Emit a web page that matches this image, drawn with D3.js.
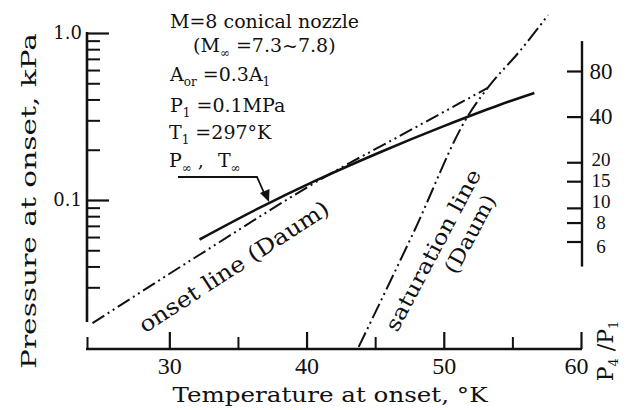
<!DOCTYPE html>
<html>
<head>
<meta charset="utf-8">
<script src="https://cdn.jsdelivr.net/npm/d3@7"></script>
<style>
  body { margin: 0; background: #fff; }
  text { font-family: "DejaVu Serif", serif; fill: #111; }
  .num { font-family: "Liberation Serif", serif; }
</style>
</head>
<body>
<div id="chart"></div>
<script>
// axis ticks
const tempTicksMajor = [30, 40, 50, 60];
const tempTicksMinor = [24, 35, 45, 55];
const tempExtent = [24, 60];
const pressureMajor = [0.1, 1.0];
const pressureMinor = [0.03, 0.04, 0.05, 0.06, 0.07, 0.08, 0.09, 0.2, 0.3, 0.4, 0.5, 0.6, 0.7, 0.8, 0.9];
const pressureExtent = [0.0186, 1.0];
const ratioTicks = [80, 40, 20, 15, 10, 8, 6];
const ratioExtent = [4.1, 126];

// measured onset (P_inf, T_inf), solid line
const measuredT = [32.2, 36.6, 40.7, 45.4, 50.0, 54.1, 56.6];
const measuredP = [0.058, 0.090, 0.131, 0.194, 0.277, 0.372, 0.437];

// onset line (Daum)
const onsetT = [24.4, 32.2, 41.7, 46.8, 53.2];
const onsetP = [0.0183, 0.047, 0.143, 0.242, 0.469];

// saturation line (Daum)
const saturationT = [43.8, 47.8, 51.8, 53.2, 55.6, 57.6];
const saturationP = [0.0132, 0.064, 0.323, 0.469, 0.79, 1.28];

const width = 628;
const height = 410;

const svg = d3.select("#chart").append("svg")
  .attr("width", width)
  .attr("height", height)
  .attr("viewBox", [0, 0, width, height]);

const x = d3.scaleLinear().domain(tempExtent).range([87, 581]);
const y = d3.scaleLog().domain([0.1, 1]).range([200, 33]);
const yRatio = d3.scaleLog().domain([6, 80]).range([241.5, 71]);

function styleAxis(g, w) {
  g.select(".domain").remove();
  g.selectAll(".tick line").attr("stroke", "#111").attr("stroke-width", w);
}

// left axis (pressure)
svg.append("line")
  .attr("x1", 87).attr("x2", 87)
  .attr("y1", y(pressureExtent[1]) - 1).attr("y2", y(pressureExtent[0]))
  .attr("stroke", "#111").attr("stroke-width", 2.6);

svg.append("g")
  .attr("transform", "translate(87,0)")
  .call(d3.axisRight(y).tickValues(pressureMinor).tickSize(13).tickFormat(""))
  .call(g => styleAxis(g, 2));

svg.append("g")
  .attr("transform", "translate(87,0)")
  .call(d3.axisRight(y).tickValues(pressureMajor).tickSize(22).tickFormat(""))
  .call(g => styleAxis(g, 2.2));

svg.append("g")
  .attr("transform", "translate(82,0)")
  .call(d3.axisLeft(y).tickValues(pressureMajor).tickSize(0).tickPadding(0).tickFormat(d3.format(".1f")))
  .call(g => {
    g.select(".domain").remove();
    g.selectAll("text")
      .attr("fill", "#111")
      .style("font-family", "'DejaVu Serif', serif")
      .style("font-size", "18px");
  });

// bottom axis (temperature)
svg.append("line")
  .attr("x1", x(tempExtent[0]) - 1).attr("x2", x(tempExtent[1]) + 1)
  .attr("y1", 349).attr("y2", 349)
  .attr("stroke", "#111").attr("stroke-width", 2.6);

svg.append("g")
  .attr("transform", "translate(0,349)")
  .call(d3.axisTop(x).tickValues(tempTicksMajor).tickSize(17).tickFormat(""))
  .call(g => styleAxis(g, 2.2));

svg.append("g")
  .attr("transform", "translate(0,349)")
  .call(d3.axisTop(x).tickValues(tempTicksMinor).tickSize(12).tickFormat(""))
  .call(g => styleAxis(g, 2));

svg.append("g")
  .attr("transform", "translate(0,349)")
  .call(d3.axisBottom(x).tickValues(tempTicksMajor).tickSize(0).tickPadding(8).tickFormat(d3.format("d")))
  .call(g => {
    g.select(".domain").remove();
    g.selectAll("text")
      .attr("fill", "#111")
      .attr("class", "num")
      .attr("dx", d => d === 60 ? -5 : 0)
      .style("font-size", "24px");
  });

// right axis (P4/P1)
svg.append("line")
  .attr("x1", 582).attr("x2", 582)
  .attr("y1", yRatio(ratioExtent[1])).attr("y2", yRatio(ratioExtent[0]))
  .attr("stroke", "#111").attr("stroke-width", 2.4);

svg.append("g")
  .attr("transform", "translate(582,0)")
  .call(d3.axisLeft(yRatio).tickValues(ratioTicks).tickSize(15).tickFormat(""))
  .call(g => styleAxis(g, 2.2));

// the labels are packed, so a few sit slightly off their ticks
const ratioNudge = { 20: -3, 15: -1, 10: -6, 8: 0, 6: 5 };
svg.append("g")
  .selectAll("text")
  .data(ratioTicks)
  .join("text")
  .attr("class", "num")
  .attr("x", 601)
  .attr("y", d => yRatio(d) + (ratioNudge[d] || 0))
  .attr("dy", "0.34em")
  .attr("text-anchor", "middle")
  .style("font-size", d => d >= 40 ? "23px" : "19px")
  .text(d => d);

// curves
const line = d3.line()
  .x(d => x(d[0]))
  .y(d => y(d[1]))
  .curve(d3.curveMonotoneX);

svg.append("path")
  .datum(onsetT.map((t, i) => [t, onsetP[i]]))
  .attr("d", line)
  .attr("fill", "none")
  .attr("stroke", "#111")
  .attr("stroke-width", 2)
  .attr("stroke-dasharray", "14,4,2,4,2,4");

svg.append("path")
  .datum(saturationT.map((t, i) => [t, saturationP[i]]))
  .attr("d", line)
  .attr("fill", "none")
  .attr("stroke", "#111")
  .attr("stroke-width", 2)
  .attr("stroke-dasharray", "16,4,2,4,2,4");

svg.append("path")
  .datum(measuredT.map((t, i) => [t, measuredP[i]]))
  .attr("d", line)
  .attr("fill", "none")
  .attr("stroke", "#111")
  .attr("stroke-width", 2.6);

// text helper with subscripts
function richText(sel, parts, subSize) {
  let shift = 0;
  parts.forEach(([str, sub, dx]) => {
    const target = sub ? 5 : 0;
    const t = sel.append("tspan").text(str).attr("dy", target - shift);
    if (dx) t.attr("dx", dx);
    if (sub) t.style("font-size", subSize);
    shift = target;
  });
  return sel;
}

// annotation block
const notes = [
  { x: 170, y: 28, parts: [["M=8 conical nozzle", false]] },
  { x: 193, y: 52, parts: [["(M", false], ["\u221e", true], [" =7.3~7.8)", false]] },
  { x: 170, y: 81, parts: [["A", false], ["or", true], [" =0.3A", false], ["1", true]] },
  { x: 170, y: 112, parts: [["P", false], ["1", true], [" =0.1MPa", false]] },
  { x: 169, y: 139, parts: [["T", false], ["1", true], [" =297\u00b0K", false]] },
  { x: 169, y: 167, parts: [["P", false], ["\u221e", true], [" ,", false], ["T", false, 14], ["\u221e", true]] }
];

notes.forEach(n => {
  const t = svg.append("text")
    .attr("x", n.x)
    .attr("y", n.y)
    .style("font-size", "19px");
  richText(t, n.parts, "12px");
});

// leader arrow to the measured line
svg.append("path")
  .attr("d", "M178,177 L257,177 L265,195")
  .attr("fill", "none")
  .attr("stroke", "#111")
  .attr("stroke-width", 1.8);

svg.append("path")
  .attr("d", "M260,193 L269,202 L269.5,189 Z")
  .attr("fill", "#111");

// curve labels
svg.append("text")
  .attr("transform", "translate(238,273) rotate(-33)")
  .attr("text-anchor", "middle")
  .attr("textLength", 222)
  .attr("lengthAdjust", "spacingAndGlyphs")
  .style("font-size", "22px")
  .text("onset line (Daum)");

svg.append("text")
  .attr("transform", "translate(433,250) rotate(-62)")
  .attr("text-anchor", "middle")
  .attr("dy", "0.35em")
  .attr("textLength", 180)
  .attr("lengthAdjust", "spacingAndGlyphs")
  .style("font-size", "21px")
  .text("saturation line");

svg.append("text")
  .attr("transform", "translate(470,234) rotate(-62)")
  .attr("text-anchor", "middle")
  .attr("dy", "0.35em")
  .attr("textLength", 86)
  .attr("lengthAdjust", "spacingAndGlyphs")
  .style("font-size", "21px")
  .text("(Daum)");

// axis titles
svg.append("text")
  .attr("x", 330)
  .attr("y", 402)
  .attr("text-anchor", "middle")
  .attr("textLength", 315)
  .attr("lengthAdjust", "spacingAndGlyphs")
  .style("font-size", "21px")
  .text("Temperature at onset, \u00b0K");

svg.append("text")
  .attr("transform", "translate(36,201) rotate(-90)")
  .attr("text-anchor", "middle")
  .attr("textLength", 336)
  .attr("lengthAdjust", "spacingAndGlyphs")
  .style("font-size", "21px")
  .text("Pressure at onset, kPa");

const ratioTitle = svg.append("text")
  .attr("transform", "translate(613,351) rotate(-90)")
  .attr("text-anchor", "middle")
  .style("font-size", "22px");
richText(ratioTitle, [["P", false], ["4", true], [" /P", false], ["1", true]], "13px");
</script>
</body>
</html>
